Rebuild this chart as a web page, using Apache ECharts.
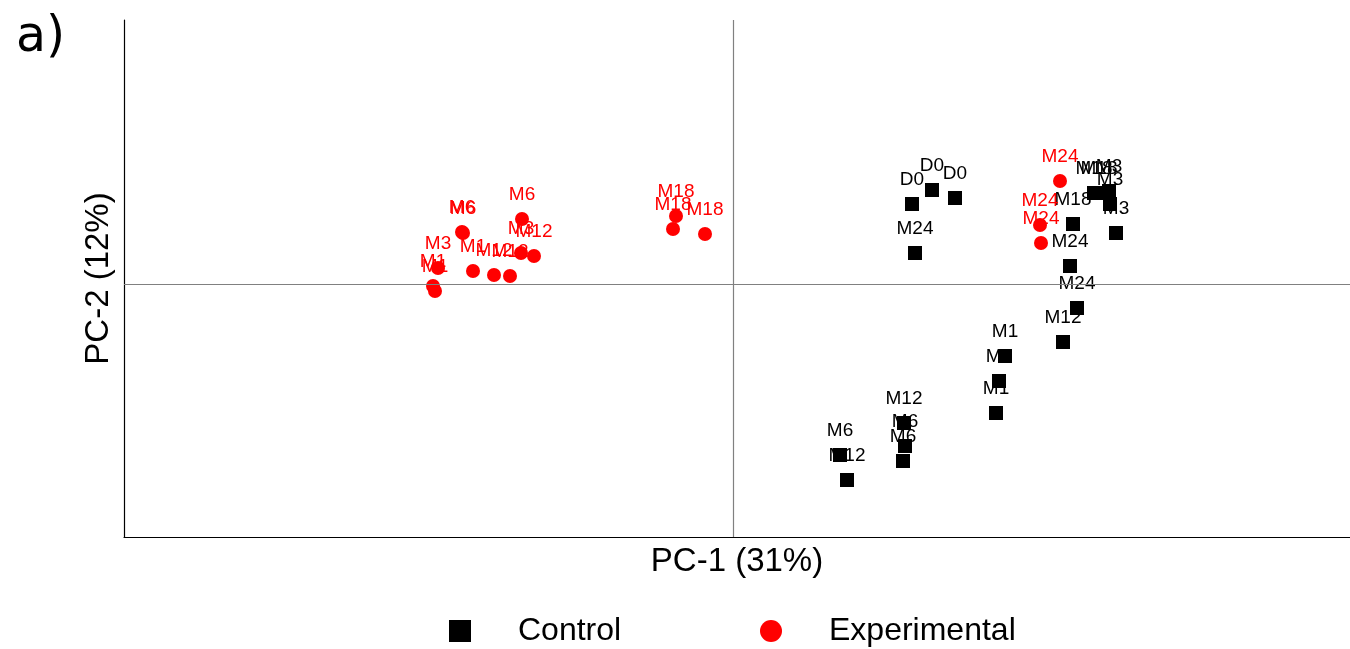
<!DOCTYPE html>
<html>
<head>
<meta charset="utf-8">
<title>PCA scores</title>
<script src="https://cdn.jsdelivr.net/npm/echarts@6/dist/echarts.min.js"></script>
<style>
  html, body { margin: 0; padding: 0; background: #fff; }
  #chart { width: 1350px; height: 649px; }
</style>
</head>
<body>
<div id="chart"></div>
<script>
// PCA score coordinates (PC-1, PC-2) with sampling time point of each sample
const ctrlPC1  = [17.9, 19.9, 22.2, 18.2, 33.7, 34.4, 34.0, 36.1, 36.6, 38.3, 37.6, 37.7, 33.0, 11.4, 17.1, 27.2, 26.6, 26.3, 10.7, 17.2, 17.0];
const ctrlPC2  = [8.0, 9.4, 8.6, 3.1, 1.8, -2.4, 6.0, 9.1, 9.1, 5.1, 9.3, 8.0, -5.8, -19.6, -13.9, -7.2, -9.7, -12.9, -17.1, -16.2, -17.7];
const ctrlTime = ['D0', 'D0', 'D0', 'M24', 'M24', 'M24', 'M18', 'M18', 'M18', 'M3', 'M3', 'M3', 'M12', 'M12', 'M12', 'M1', 'M1', 'M1', 'M6', 'M6', 'M6'];

const expPC1  = [-27.0, -27.1, -21.1, -29.5, -21.2, -30.0, -29.8, -26.0, -23.9, -22.3, -19.9, -5.7, -6.0, -2.8, 32.7, 30.7, 30.8];
const expPC2  = [5.1, 5.2, 6.5, 1.6, 3.1, -0.2, -0.7, 1.3, 0.9, 0.8, 2.8, 6.8, 5.5, 5.0, 10.3, 5.9, 4.1];
const expTime = ['M6', 'M6', 'M6', 'M3', 'M3', 'M1', 'M1', 'M1', 'M12', 'M12', 'M12', 'M18', 'M18', 'M18', 'M24', 'M24', 'M24'];

const groupNames = ['Control', 'Experimental'];
const axisTitles = ['PC-1 (31%)', 'PC-2 (12%)'];
const panelTag = 'a)';

const FONT = '"Liberation Sans", Arial, sans-serif';

function points(xs, ys, names) {
  return xs.map((x, i) => ({ value: [x, ys[i]], name: names[i] }));
}

function groupSeries(name, symbol, color, data) {
  return {
    name: name,
    type: 'scatter',
    symbol: symbol,
    symbolSize: 14,
    itemStyle: { color: color, opacity: 1 },
    label: {
      show: true,
      position: 'top',
      distance: 8,
      formatter: p => p.name,
      color: color,
      fontFamily: FONT,
      fontSize: 19
    },
    labelLayout: { hideOverlap: false },
    emphasis: { disabled: true },
    data: data
  };
}

const chart = echarts.init(document.getElementById('chart'), null, { renderer: 'canvas' });

const ctrl = groupSeries(groupNames[0], 'rect', '#000000', points(ctrlPC1, ctrlPC2, ctrlTime));
ctrl.markLine = {
  silent: true,
  symbol: 'none',
  animation: false,
  label: { show: false },
  lineStyle: { color: '#808080', type: 'solid', width: 1.2 },
  data: [{ xAxis: 0 }, { yAxis: 0 }]
};
const expt = groupSeries(groupNames[1], 'circle', '#ff0000', points(expPC1, expPC2, expTime));

const legendBase = {
  orient: 'horizontal',
  top: 610,
  itemWidth: 22,
  itemHeight: 22,
  selectedMode: false,
  textStyle: { fontFamily: FONT, fontSize: 32, color: '#000', padding: [0, 0, 0, 42] }
};

chart.setOption({
  animation: false,
  backgroundColor: '#ffffff',
  title: {
    text: panelTag,
    left: 11,
    top: 9,
    textStyle: { fontFamily: '"DejaVu Sans", sans-serif', fontSize: 49, fontWeight: 'normal', color: '#000' }
  },
  legend: [
    Object.assign({}, legendBase, { left: 444, data: [{ name: groupNames[0], icon: 'rect' }] }),
    Object.assign({}, legendBase, { left: 755, data: [{ name: groupNames[1], icon: 'circle' }] })
  ],
  grid: { left: 124, right: 0, top: 20, bottom: 112, containLabel: false },
  xAxis: {
    type: 'value',
    min: -60.9,
    max: 61.7,
    name: axisTitles[0],
    nameLocation: 'middle',
    nameGap: 8,
    nameTextStyle: { fontFamily: FONT, fontSize: 33, color: '#000', verticalAlign: 'top' },
    axisLine: { show: true, onZero: false, lineStyle: { color: '#000', width: 1.2 } },
    axisTick: { show: false },
    axisLabel: { show: false },
    splitLine: { show: false }
  },
  yAxis: {
    type: 'value',
    min: -25.3,
    max: 26.4,
    name: axisTitles[1],
    nameLocation: 'middle',
    nameGap: 9,
    nameTextStyle: { fontFamily: FONT, fontSize: 33, color: '#000' },
    axisLine: { show: true, onZero: false, lineStyle: { color: '#000', width: 1.2 } },
    axisTick: { show: false },
    axisLabel: { show: false },
    splitLine: { show: false }
  },
  series: [ctrl, expt]
});
</script>
</body>
</html>
